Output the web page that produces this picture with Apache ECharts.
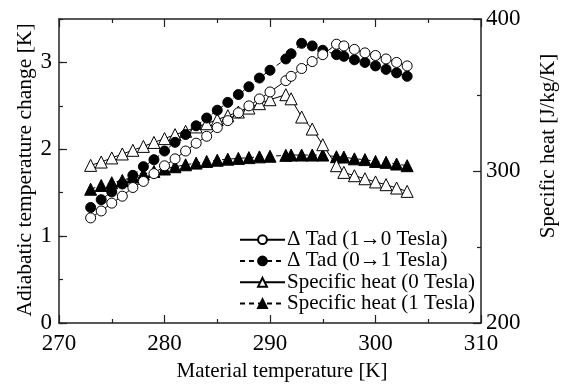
<!DOCTYPE html>
<html><head><meta charset="utf-8">
<script src="https://cdn.jsdelivr.net/npm/echarts@6/dist/echarts.min.js"></script>
<style>html,body{margin:0;padding:0;background:#fff}#c{width:564px;height:385px}</style>
</head><body><div id="c"></div>
<script>
const temperature = [273,274,275,276,277,278,279,280,281,282,283,284,285,286,287,288,289,290,291.5,292,293,294,295,296.3,297,298,299,300,301,302,303];
const dTad10 = [1.21,1.29,1.38,1.46,1.56,1.63,1.72,1.81,1.89,1.98,2.07,2.15,2.25,2.33,2.42,2.50,2.58,2.66,2.79,2.84,2.93,3.01,3.09,3.21,3.19,3.15,3.11,3.08,3.04,3.00,2.96];
const dTad01 = [1.33,1.42,1.51,1.60,1.70,1.80,1.88,1.98,2.08,2.17,2.27,2.36,2.45,2.54,2.63,2.72,2.82,2.91,3.04,3.10,3.22,3.19,3.14,3.09,3.07,3.03,3.00,2.96,2.92,2.88,2.84];
const cp0 = [303.7,305.9,308.6,311.2,313.6,316.2,318.8,321.3,323.9,326.1,329.0,331.1,333.8,336.4,338.8,341.4,344.3,346.9,350.2,347.5,335.5,327.6,317.3,303.5,299.1,296.9,294.9,292.8,291.0,288.8,286.6];
const cp1 = [288.0,290.5,292.3,293.8,296.0,298.0,299.7,301.3,302.8,304.1,305.2,306.3,307.1,307.8,308.3,308.8,309.3,309.7,310.3,310.5,310.5,310.5,310.5,309.4,309.2,308.0,307.5,306.3,305.7,304.6,303.5];
const xTicks = [270,280,290,300,310];
const leftTicks = [0,1,2,3];
const rightTicks = [200,300,400];
const names = ['\u0394 Tad (1\u21920 Tesla)','\u0394 Tad (0\u21921 Tesla)','Specific heat (0 Tesla)','Specific heat (1 Tesla)'];

const pair = (ys) => temperature.map((t,i)=>[t, ys[i]]);
const FONT = 'Liberation Serif';
const AX = '#222';

const chart = echarts.init(document.getElementById('c'), null, {renderer:'canvas'});
const rich = {t:{fontFamily:FONT, fontSize:23, color:'#000', fontWeight:'normal'}};
const lbl = (list, extra) => Object.assign({
  color:'#000', fontFamily:FONT, fontSize:23, rich:rich,
  formatter:(v)=> list.includes(v) ? '{t|' + v + '}' : ''
}, extra);
const baseX = {
  type:'value', min:xTicks[0], max:xTicks[xTicks.length-1], interval:10,
  axisLine:{show:true, onZero:false, lineStyle:{color:AX, width:1.5}},
  axisTick:{show:true, inside:true, length:8, lineStyle:{color:AX, width:1.2}},
  minorTick:{show:true, splitNumber:2, length:4, lineStyle:{color:AX, width:1.2}},
  splitLine:{show:false}, minorSplitLine:{show:false}
};
chart.setOption({
  animation:false,
  backgroundColor:'#fff',
  textStyle:{fontFamily:FONT},
  grid:{left:59, right:83, top:19, bottom:62},
  xAxis:[
    Object.assign({}, baseX, {position:'bottom', axisLabel:lbl(xTicks, {show:true, margin:9})}),
    Object.assign({}, baseX, {position:'top', axisLabel:{show:false}})
  ],
  yAxis:[
    {type:'value', min:0, max:3.5, interval:1, position:'left',
     axisLine:{show:true, lineStyle:{color:AX, width:1.5}},
     axisTick:{show:true, inside:true, length:8, lineStyle:{color:AX, width:1.2}},
     axisLabel:lbl(leftTicks, {margin:7, showMaxLabel:false}),
     splitLine:{show:false}},
    {type:'value', min:200, max:400, interval:100, position:'right',
     axisLine:{show:true, lineStyle:{color:AX, width:1.5}},
     axisTick:{show:true, inside:true, length:8, lineStyle:{color:AX, width:1.2}},
     minorTick:{show:true, splitNumber:2, length:4, lineStyle:{color:AX, width:1.2}},
     axisLabel:lbl(rightTicks, {margin:5}),
     splitLine:{show:false}, minorSplitLine:{show:false}},
    {type:'value', min:0, max:3.5, interval:0.5, position:'left', offset:0,
     axisLine:{show:false}, axisLabel:{show:false},
     axisTick:{show:true, inside:true, length:4, lineStyle:{color:AX, width:1.2}},
     splitLine:{show:false}}
  ],
  legend:{
    orient:'vertical', left:234, top:224, itemWidth:45, itemHeight:11, itemGap:0,
    textStyle:{fontFamily:FONT, fontSize:21, color:'#000', lineHeight:21.3, padding:[0,0,0,-3]},
    data:names
  },
  series:[
    {name:names[0], type:'line', yAxisIndex:0, data:pair(dTad10), symbol:'circle', symbolSize:10,
     itemStyle:{color:'#fff', borderColor:'#000', borderWidth:1},
     lineStyle:{color:'#000', width:1, type:'solid'}, z:4},
    {name:names[1], type:'line', yAxisIndex:0, data:pair(dTad01), symbol:'circle', symbolSize:10,
     itemStyle:{color:'#000', borderColor:'#000', borderWidth:1},
     lineStyle:{color:'#000', width:1, type:[5,4]}, z:3},
    {name:names[2], type:'line', yAxisIndex:1, data:pair(cp0), symbol:'triangle', symbolSize:12,
     itemStyle:{color:'#fff', borderColor:'#000', borderWidth:1},
     lineStyle:{color:'#000', width:1, type:'solid'}, z:2},
    {name:names[3], type:'line', yAxisIndex:1, data:pair(cp1), symbol:'triangle', symbolSize:12,
     itemStyle:{color:'#000', borderColor:'#000', borderWidth:1},
     lineStyle:{color:'#000', width:1, type:[5,4]}, z:1}
  ],
  graphic:[
    {type:'text', left:'center', x:0, top:361, style:{text:'Material temperature [K]', fontFamily:FONT, fontSize:21, fill:'#000'}},
    {type:'text', x:25, y:170, rotation:Math.PI/2, style:{text:'Adiabatic temperature change [K]', fontFamily:FONT, fontSize:21.5, fill:'#000', align:'center', verticalAlign:'middle'}},
    {type:'text', x:548, y:146, rotation:Math.PI/2, style:{text:'Specific heat [J/kg/K]', fontFamily:FONT, fontSize:21, fill:'#000', align:'center', verticalAlign:'middle'}}
  ]
});
</script></body></html>
